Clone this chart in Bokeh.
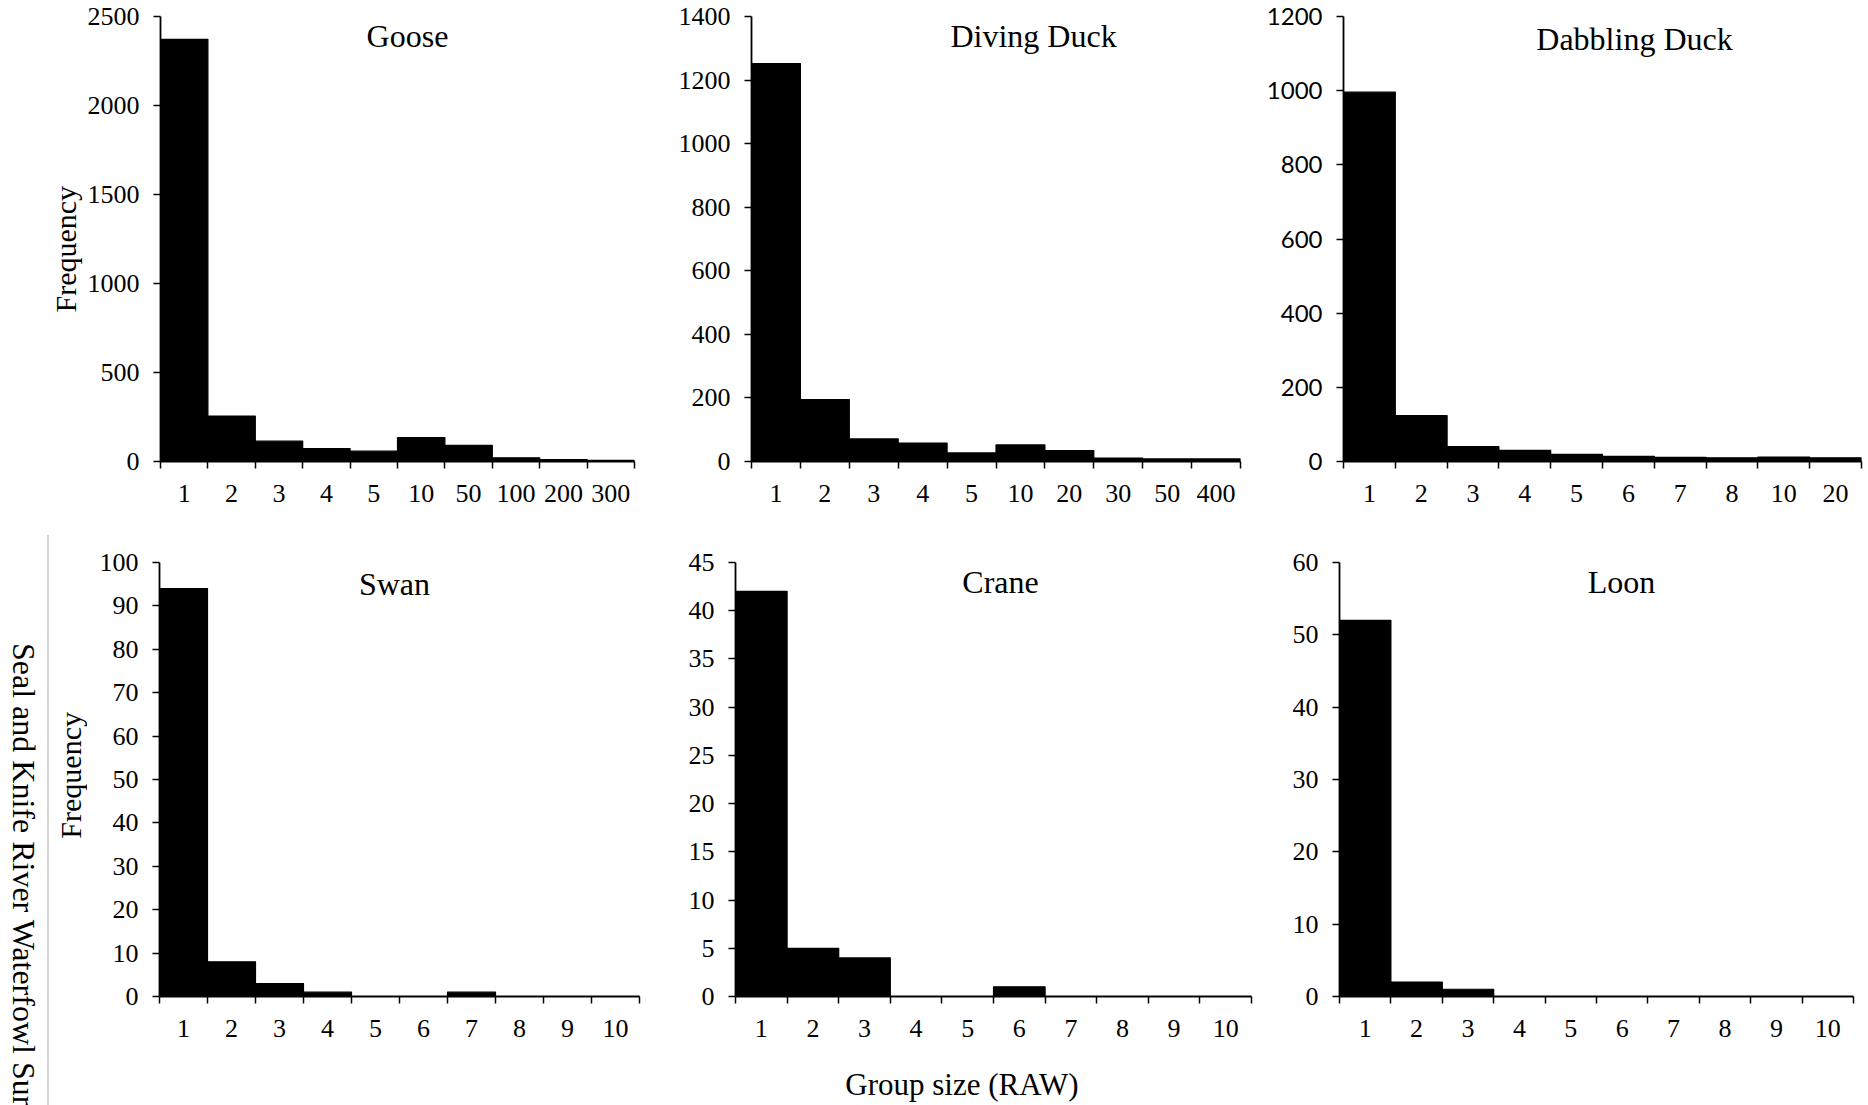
import math
from bokeh.plotting import figure
from bokeh.models import Range1d, FixedTicker, SingleIntervalTicker, Label, Div, Title
from bokeh.layouts import row, column
from bokeh.embed import file_html
from bokeh.resources import INLINE

# ---------------- data ----------------
goose_sizes = ["1", "2", "3", "4", "5", "10", "50", "100", "200", "300"]
goose_freq = [2372, 255, 114, 73, 58, 134, 91, 21, 11, 6]

diving_sizes = ["1", "2", "3", "4", "5", "10", "20", "30", "50", "400"]
diving_freq = [1252, 195, 71, 58, 27, 52, 34, 11, 8, 8]

dabbling_sizes = ["1", "2", "3", "4", "5", "6", "7", "8", "10", "20"]
dabbling_freq = [996, 124, 40, 30, 19, 14, 11, 10, 12, 10]

swan_sizes = ["1", "2", "3", "4", "5", "6", "7", "8", "9", "10"]
swan_freq = [94, 8, 3, 1, 0, 0, 1, 0, 0, 0]

crane_sizes = ["1", "2", "3", "4", "5", "6", "7", "8", "9", "10"]
crane_freq = [42, 5, 4, 0, 0, 1, 0, 0, 0, 0]

loon_sizes = ["1", "2", "3", "4", "5", "6", "7", "8", "9", "10"]
loon_freq = [52, 2, 1, 0, 0, 0, 0, 0, 0, 0]

SERIF = "Liberation Serif"
SANS = "Lato"
BASELINE_FIX = 12  # Label alphabetic baseline correction (px)


def panel(name, cats, counts, ymax, ystep, fig_w, fig_h, left, top, frame_w, frame_h,
          title_xy, ylabel=None, ylabel_offset=0, ylabel_standoff=2,
          ytick_font=SERIF, ytick_size="26px"):
    right = fig_w - left - frame_w
    bottom = fig_h - top - frame_h
    n = len(cats)
    p = figure(width=fig_w, height=fig_h, x_range=Range1d(0, n), y_range=Range1d(0, ymax),
               output_backend="svg", toolbar_location=None,
               min_border_left=left, min_border_right=right,
               min_border_top=top, min_border_bottom=bottom)
    p.outline_line_color = None
    p.grid.visible = False
    p.background_fill_color = "white"
    p.border_fill_color = "white"

    centers = [i + 0.5 for i in range(n)]
    edges = [float(i) for i in range(n + 1)]
    p.vbar(x=centers, top=counts, bottom=0, width=1.0,
           fill_color="black", line_color="black", line_width=1.2, line_join="round")

    xa = p.xaxis[0]
    xa.ticker = FixedTicker(ticks=centers, minor_ticks=edges)
    xa.major_label_overrides = {c: lab for c, lab in zip(centers, cats)}
    xa.major_tick_out = 0
    xa.major_tick_in = 0
    xa.minor_tick_out = 7
    xa.minor_tick_in = 0
    xa.minor_tick_line_color = "black"
    xa.minor_tick_line_width = 1.5
    xa.axis_line_color = "black"
    xa.axis_line_width = 1.8
    xa.major_label_standoff = 16
    xa.major_label_text_font = SERIF
    xa.major_label_text_font_size = "26px"
    xa.major_label_text_color = "black"

    ya = p.yaxis[0]
    ya.ticker = SingleIntervalTicker(interval=ystep, num_minor_ticks=0)
    ya.major_tick_out = 7
    ya.major_tick_in = 0
    ya.major_tick_line_color = "black"
    ya.major_tick_line_width = 1.5
    ya.minor_tick_line_color = None
    ya.axis_line_color = "black"
    ya.axis_line_width = 1.8
    ya.major_label_standoff = 14
    ya.major_label_text_font = ytick_font
    ya.major_label_text_font_size = ytick_size
    ya.major_label_text_color = "black"
    if ylabel:
        p.add_layout(Title(text=ylabel, align="left", offset=ylabel_offset,
                           text_font=SERIF, text_font_size="30px", text_font_style="normal",
                           text_color="black", standoff=ylabel_standoff), "left")

    tx, ty = title_xy
    lx = (tx - left) / frame_w * n
    ly = ymax * (1 - (ty - BASELINE_FIX - top) / frame_h)
    p.add_layout(Label(x=lx, y=ly, text=name, text_align="center", text_baseline="alphabetic",
                       text_font=SERIF, text_font_size="32px", text_color="black"))
    return p


TOP_H = 530
BOT_H = 575
PLOT2_H = 530          # bottom row of plots; the shared x title sits below it
CAPTION_H = BOT_H - PLOT2_H
STRIP_W = 90

goose = panel("Goose", goose_sizes, goose_freq, 2500, 500, 675, TOP_H, 160, 16, 474, 445,
              (407, 47), ylabel="Frequency", ylabel_offset=149, ylabel_standoff=6)
diving = panel("Diving Duck", diving_sizes, diving_freq, 1400, 200, 583, TOP_H, 64, 14, 501, 451,
               (353, 46))
dabbling = panel("Dabbling Duck", dabbling_sizes, dabbling_freq, 1200, 200, 610, TOP_H, 85, 14, 518, 450,
                 (376, 49), ytick_font=SANS, ytick_size="24px")

swan = panel("Swan", swan_sizes, swan_freq, 100, 10, 675 - STRIP_W, PLOT2_H, 159 - STRIP_W, 32, 480, 435,
             (394 - STRIP_W, 66))
crane = panel("Crane", crane_sizes, crane_freq, 45, 5, 583, PLOT2_H, 60, 26, 516, 442,
              (325, 58))
loon = panel("Loon", loon_sizes, loon_freq, 60, 10, 610, PLOT2_H, 81, 30, 514, 436,
             (363, 62))

# shared x-axis title under the bottom row (centred at page x = 962)
caption_center = 962 - STRIP_W
caption = Div(
    text=('<div style="position:absolute;left:0;top:7px;width:%dpx;text-align:center;'
          "font-family:'Liberation Serif';font-size:31px;line-height:36px;white-space:nowrap;"
          'color:black;">Group size (RAW)</div>') % (2 * caption_center),
    width=1868 - STRIP_W, height=CAPTION_H, margin=0,
    styles={"position": "relative"})

# left strip: cut-off rotated source note, light grey rule, and the Swan panel's y-axis title
note_html = (
    '<div style="position:absolute;left:0;top:0;width:90px;height:575px;overflow:hidden;">'
    '<div style="position:absolute;left:47px;top:5px;width:0;height:570px;'
    'border-left:2px solid #d4d4d4;"></div>'
    '<div style="position:absolute;left:8px;top:113px;writing-mode:vertical-rl;'
    "font-family:'Liberation Serif';font-size:32px;line-height:32px;white-space:nowrap;color:black;\">"
    'Seal and Knife River Waterfowl Survey</div>'
    '<div style="position:absolute;left:55px;top:145px;width:32px;height:200px;display:flex;'
    'align-items:center;justify-content:center;">'
    '<span style="writing-mode:vertical-rl;transform:rotate(180deg);'
    "font-family:'Liberation Serif';font-size:30px;line-height:32px;white-space:nowrap;color:black;\">"
    'Frequency</span></div>'
    '</div>'
)
strip = Div(text=note_html, width=STRIP_W, height=BOT_H, margin=0,
            styles={"position": "relative", "overflow": "hidden"})

layout = column(row(goose, diving, dabbling),
                row(strip, column(row(swan, crane, loon), caption)))

open("out.html", "w").write(file_html(layout, INLINE))
